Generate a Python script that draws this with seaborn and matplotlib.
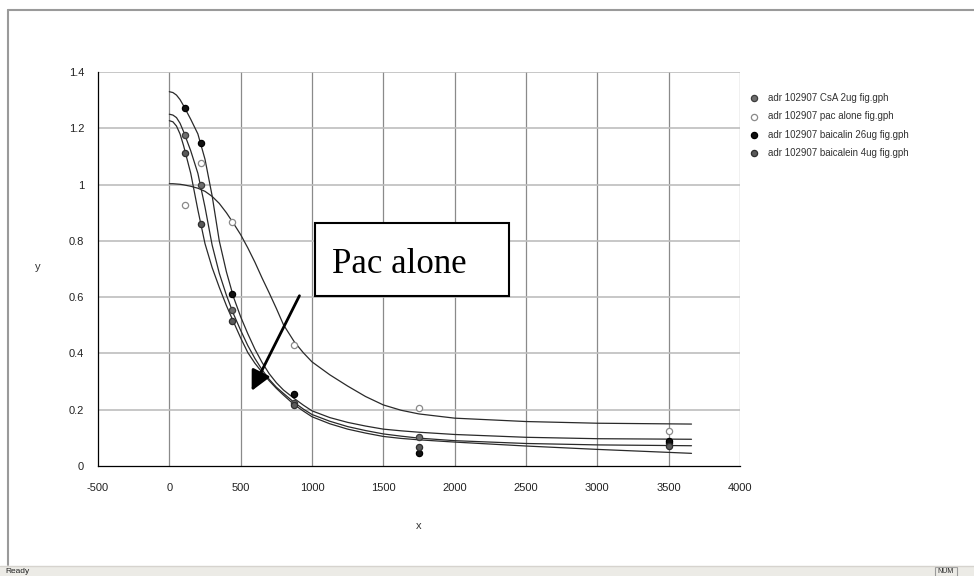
import pandas as pd
import matplotlib.pyplot as plt
import seaborn as sns
from matplotlib.patches import Rectangle
from matplotlib.lines import Line2D

# ================================================
# Data
# ================================================

series_names = ['adr 102907 CsA 2ug fig.gph',
                'adr 102907 pac alone fig.gph',
                'adr 102907 baicalin 26ug fig.gph',
                'adr 102907 baicalein 4ug fig.gph']

# measured points
pt_x = [109, 219, 438, 875, 1750, 3500]
csa_y = [1.177, 1.000, 0.554, 0.224, 0.103, 0.082]
pac_y = [0.928, 1.076, 0.868, 0.429, 0.206, 0.124]
baicalin_y = [1.272, 1.146, 0.610, 0.257, 0.045, 0.090]
baicalein_y = [1.112, 0.859, 0.515, 0.218, 0.066, 0.072]

# fitted curves
curve_x = [0, 25, 50, 75, 100, 150, 200, 250, 300, 350, 400, 450, 500, 550,
           600, 650, 700, 750, 800, 875, 940, 1000, 1125, 1250, 1375, 1500,
           1625, 1750, 2000, 2500, 3000, 3660]
csa_fit = [1.250, 1.247, 1.238, 1.218, 1.188, 1.120, 1.040, 0.920, 0.785,
           0.685, 0.607, 0.540, 0.482, 0.428, 0.382, 0.342, 0.308, 0.280,
           0.258, 0.226, 0.202, 0.183, 0.159, 0.140, 0.126, 0.114, 0.106,
           0.099, 0.090, 0.080, 0.075, 0.072]
pac_fit = [1.003, 1.003, 1.002, 1.001, 0.999, 0.994, 0.987, 0.976, 0.958,
           0.933, 0.900, 0.862, 0.822, 0.775, 0.724, 0.668, 0.615, 0.560,
           0.502, 0.442, 0.402, 0.370, 0.324, 0.284, 0.247, 0.217, 0.198,
           0.185, 0.170, 0.158, 0.152, 0.149]
baicalin_fit = [1.330, 1.327, 1.318, 1.302, 1.280, 1.232, 1.180, 1.090, 0.960,
                0.800, 0.690, 0.600, 0.530, 0.470, 0.415, 0.368, 0.328, 0.296,
                0.270, 0.240, 0.216, 0.196, 0.172, 0.155, 0.142, 0.131, 0.125,
                0.120, 0.112, 0.102, 0.097, 0.095]
baicalein_fit = [1.227, 1.223, 1.208, 1.180, 1.138, 1.040, 0.910, 0.790, 0.705,
                 0.635, 0.570, 0.512, 0.455, 0.403, 0.365, 0.333, 0.303, 0.276,
                 0.252, 0.218, 0.195, 0.175, 0.150, 0.131, 0.117, 0.105, 0.098,
                 0.093, 0.085, 0.071, 0.059, 0.045]

x_ticks = [-500, 0, 500, 1000, 1500, 2000, 2500, 3000, 3500, 4000]
x_tick_labels = ['-500', '0', '500', '1000', '1500', '2000', '2500', '3000', '3500', '4000']
y_ticks = [0, 0.2, 0.4, 0.6, 0.8, 1.0, 1.2, 1.4]
y_tick_labels = ['0', '0.2', '0.4', '0.6', '0.8', '1', '1.2', '1.4']

# marker face / edge per series
face_colors = ['#6e6e6e', '#ffffff', '#111111', '#5a5a5a']
edge_colors = ['#3c3c3c', '#8a8a8a', '#000000', '#2e2e2e']

all_y = [csa_y, pac_y, baicalin_y, baicalein_y]
all_fit = [csa_fit, pac_fit, baicalin_fit, baicalein_fit]

points = pd.concat([
    pd.DataFrame({'x': pt_x, 'y': ys, 'series': name})
    for name, ys in zip(series_names, all_y)
], ignore_index=True)

curves = pd.concat([
    pd.DataFrame({'x': curve_x, 'y': ys, 'series': name})
    for name, ys in zip(series_names, all_fit)
], ignore_index=True)

# ================================================
# Chart
# ================================================

sns.set_theme(style='white')
plt.rcParams['font.family'] = ['Liberation Sans', 'DejaVu Sans']

fig = plt.figure(figsize=(9.74, 5.76), dpi=100)
fig.patch.set_facecolor('white')
ax = fig.add_axes([98 / 974, 1 - 466 / 576, 642 / 974, 394 / 576])

sns.lineplot(data=curves, x='x', y='y', units='series', estimator=None,
             color='#2a2a2a', linewidth=0.9, sort=False, legend=False,
             ax=ax, zorder=3)

for name, fc, ec in zip(series_names, face_colors, edge_colors):
    sns.scatterplot(data=points[points['series'] == name], x='x', y='y',
                    color=fc, edgecolor=ec, linewidth=0.9, s=20,
                    label=name, ax=ax, zorder=4)

ax.set_xlim(-500, 4000)
ax.set_ylim(0, 1.4)
ax.set_xticks(x_ticks)
ax.set_xticklabels(x_tick_labels)
ax.set_yticks(y_ticks)
ax.set_yticklabels(y_tick_labels)
ax.tick_params(axis='both', direction='out', length=4, width=0.8,
               colors='#000000', labelsize=8, labelcolor='#222222', pad=6)
ax.tick_params(axis='x', pad=8)

# Excel style grid: darker verticals, lighter horizontals
for xv in x_ticks[1:]:
    ax.axvline(xv, color='#8a8a8a', linewidth=0.9, zorder=1)
for yv in y_ticks[1:]:
    ax.axhline(yv, color='#bdbdbd', linewidth=1.2, zorder=1)

for side in ['top', 'right']:
    ax.spines[side].set_visible(False)
ax.spines['left'].set_color('#000000')
ax.spines['bottom'].set_color('#000000')
ax.spines['left'].set_linewidth(0.9)
ax.spines['bottom'].set_linewidth(0.9)

ax.set_xlabel('x', fontsize=8, color='#333333')
ax.set_ylabel('y', fontsize=8, color='#333333', rotation=0)
ax.xaxis.set_label_coords((419 - 98) / 642, (466 - 521) / 394)
ax.yaxis.set_label_coords((38 - 98) / 642, (466 - 272) / 394)

# Pac alone callout
ax.add_patch(Rectangle((1024, 0.604), 1360, 0.260, facecolor='white',
                       edgecolor='black', linewidth=1.5, zorder=5))
ax.text(1140, 0.716, 'Pac alone', fontsize=25, va='center', ha='left',
        family=['Liberation Serif', 'DejaVu Serif'], color='black', zorder=6)
ax.annotate('', xy=(577, 0.267), xytext=(912, 0.605),
            arrowprops=dict(arrowstyle='-|>', color='black', lw=2,
                            mutation_scale=30, shrinkA=0, shrinkB=0),
            zorder=6)

leg = ax.legend(loc='upper left', bbox_to_anchor=(748 / 974, 1 - 93 / 576),
                bbox_transform=fig.transFigure, frameon=False, fontsize=7,
                handletextpad=0.9, handlelength=1.2, labelspacing=0.85,
                borderpad=0, borderaxespad=0)
for t in leg.get_texts():
    t.set_color('#333333')

# window frame and status bar
fig.add_artist(Line2D([8 / 974, 8 / 974], [1 - 565 / 576, 1 - 10 / 576],
                      transform=fig.transFigure, color='#9a9a9a', lw=1.5))
fig.add_artist(Line2D([8 / 974, 1], [1 - 10 / 576, 1 - 10 / 576],
                      transform=fig.transFigure, color='#9a9a9a', lw=1.5))
fig.add_artist(Rectangle((0, 0), 1, 10 / 576, transform=fig.transFigure,
                         facecolor='#ecebe6', edgecolor='none'))
fig.add_artist(Line2D([0, 1], [10 / 576, 10 / 576], transform=fig.transFigure,
                      color='#d6d3ce', lw=1))
fig.text(5 / 974, 1 / 576, 'Ready', fontsize=6, color='#222222', va='bottom')
fig.add_artist(Rectangle((935 / 974, 0), 22 / 974, 9 / 576,
                         transform=fig.transFigure, facecolor='none',
                         edgecolor='#9a9a9a', lw=0.8))
fig.text(937 / 974, 1 / 576, 'NUM', fontsize=5, color='#222222', va='bottom')

plt.savefig('out.png', dpi=100)
